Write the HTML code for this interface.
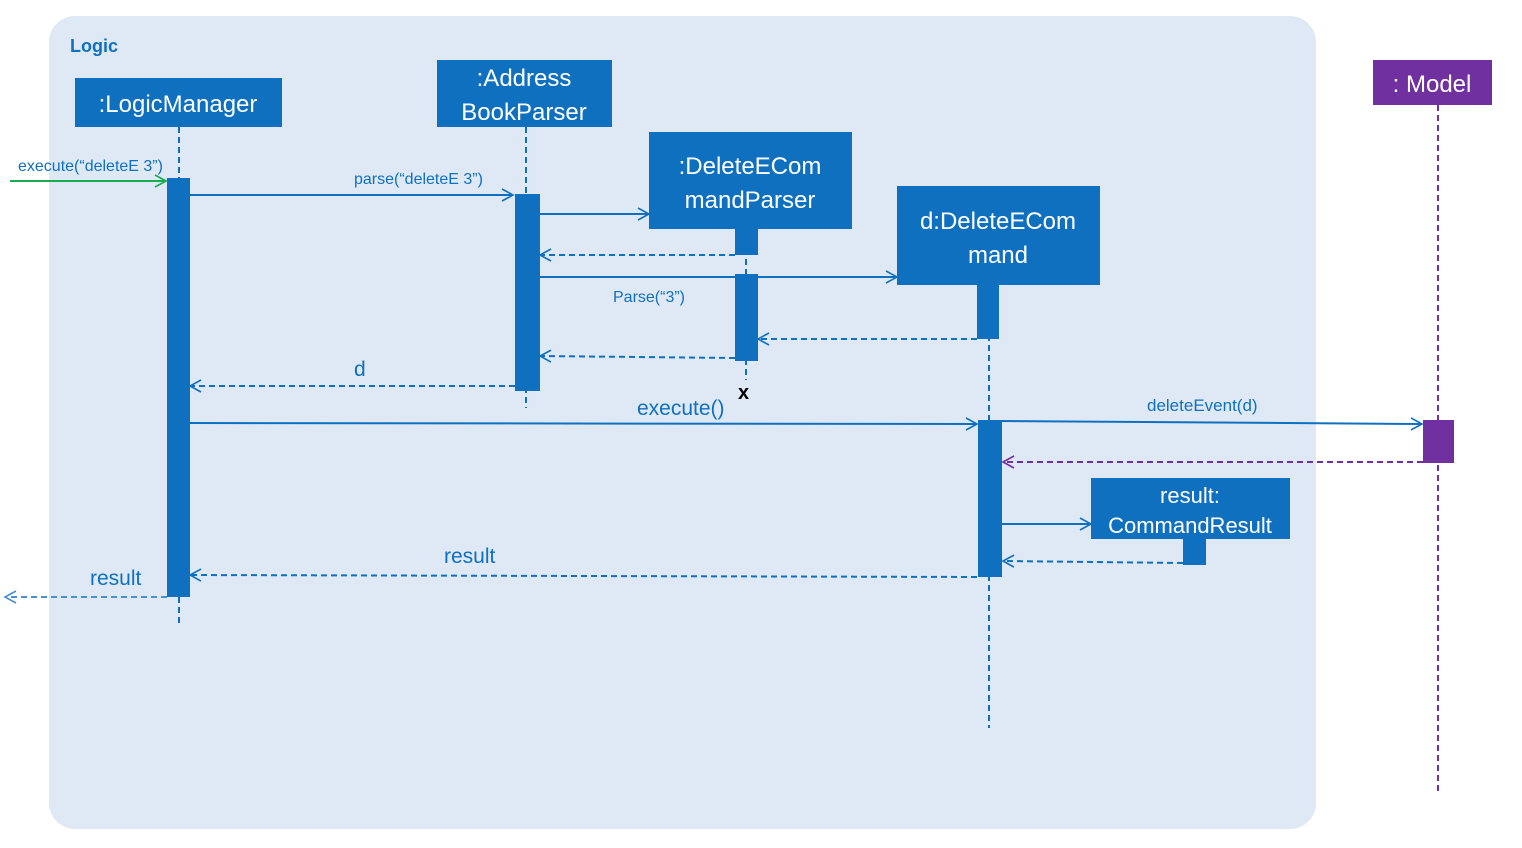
<!DOCTYPE html>
<html><head><meta charset="utf-8"><style>
html,body{margin:0;padding:0;background:#fff;}
svg{display:block;font-family:"Liberation Sans",sans-serif;}
</style></head><body>
<svg width="1522" height="848" viewBox="0 0 1522 848" xmlns="http://www.w3.org/2000/svg">
<defs>
<marker id="a" markerWidth="14" markerHeight="14" refX="12" refY="7" orient="auto" markerUnits="userSpaceOnUse"><path d="M1,1 L12,7 L1,13" fill="none" stroke="#1070c0" stroke-width="1.6"/></marker>
<marker id="g" markerWidth="14" markerHeight="14" refX="12" refY="7" orient="auto" markerUnits="userSpaceOnUse"><path d="M1,1 L12,7 L1,13" fill="none" stroke="#1aaa50" stroke-width="1.6"/></marker>
<marker id="p" markerWidth="14" markerHeight="14" refX="12" refY="7" orient="auto" markerUnits="userSpaceOnUse"><path d="M1,1 L12,7 L1,13" fill="none" stroke="#7030a0" stroke-width="1.6"/></marker>
<marker id="l" markerWidth="14" markerHeight="14" refX="12" refY="7" orient="auto" markerUnits="userSpaceOnUse"><path d="M1,1 L12,7 L1,13" fill="none" stroke="#4a90d0" stroke-width="1.6"/></marker>
</defs>
<rect x="49" y="16" width="1267" height="813" rx="26" fill="#dee9f5"/>
<text x="70" y="52" font-size="18" font-weight="bold" fill="#1070c0">Logic</text>

<g stroke="#1070c0" stroke-width="2" stroke-dasharray="6,4" fill="none">
<line x1="179" y1="127" x2="179" y2="625"/>
<line x1="526" y1="127" x2="526" y2="408"/>
<line x1="746" y1="229" x2="746" y2="380"/>
<line x1="989" y1="285" x2="989" y2="728"/>
</g>
<line x1="1438" y1="105" x2="1438" y2="795" stroke="#7030a0" stroke-width="2" stroke-dasharray="6,4"/>

<g fill="#1070c0">
<rect x="75" y="78" width="207" height="49"/>
<rect x="437" y="60" width="175" height="67"/>
<rect x="649" y="132" width="203" height="97"/>
<rect x="897" y="186" width="203" height="99"/>
<rect x="1091" y="478" width="199" height="61"/>
<rect x="167" y="178" width="23" height="419"/>
<rect x="515" y="194" width="25" height="197"/>
<rect x="735" y="229" width="23" height="26"/>
<rect x="735" y="274" width="23" height="87"/>
<rect x="977" y="285" width="22" height="54"/>
<rect x="978" y="420" width="24" height="157"/>
<rect x="1183" y="539" width="23" height="26"/>
</g>
<rect x="1373" y="60" width="119" height="45" fill="#7030a0"/>
<rect x="1423" y="420" width="31" height="43" fill="#7030a0"/>

<g fill="#fff" font-size="24" text-anchor="middle">
<text x="178" y="112">:LogicManager</text>
<text x="524" y="86">:Address</text>
<text x="524" y="120">BookParser</text>
<text x="750" y="174">:DeleteECom</text>
<text x="750" y="208">mandParser</text>
<text x="998" y="229">d:DeleteECom</text>
<text x="998" y="263">mand</text>
<text x="1432" y="92">: Model</text>
<text x="1190" y="503" font-size="22">result:</text>
<text x="1190" y="533" font-size="22">CommandResult</text>
</g>

<line x1="10" y1="181" x2="166" y2="181" stroke="#1aaa50" stroke-width="2" marker-end="url(#g)"/>
<g stroke="#1070c0" stroke-width="2" fill="none" marker-end="url(#a)">
<line x1="190" y1="195" x2="513" y2="195"/>
<line x1="540" y1="214" x2="649" y2="214"/>
<line x1="735" y1="255" x2="540" y2="255" stroke-dasharray="6,4"/>
<line x1="540" y1="277" x2="897" y2="277"/>
<line x1="977" y1="339" x2="758" y2="339" stroke-dasharray="6,4"/>
<line x1="735" y1="358" x2="540" y2="356" stroke-dasharray="6,4"/>
<line x1="515" y1="386" x2="190" y2="386" stroke-dasharray="6,4"/>
<line x1="190" y1="423" x2="977" y2="424"/>
<line x1="1002" y1="421" x2="1422" y2="424"/>
<line x1="1002" y1="524" x2="1091" y2="524"/>
<line x1="1183" y1="563" x2="1003" y2="561" stroke-dasharray="6,4"/>
<line x1="977" y1="577" x2="190" y2="575" stroke-dasharray="6,4"/>
</g>
<line x1="1423" y1="462" x2="1003" y2="462" stroke="#7030a0" stroke-width="2" stroke-dasharray="6,4" marker-end="url(#p)"/>
<line x1="167" y1="597" x2="5" y2="597" stroke="#4a90d0" stroke-width="2" stroke-dasharray="6,4" marker-end="url(#l)"/>

<g fill="#1070c0">
<text x="18" y="171" font-size="16">execute(“deleteE 3”)</text>
<text x="354" y="184" font-size="16">parse(“deleteE 3”)</text>
<text x="613" y="302" font-size="16">Parse(“3”)</text>
<text x="354" y="376" font-size="21">d</text>
<text x="637" y="415" font-size="21">execute()</text>
<text x="1147" y="411" font-size="17">deleteEvent(d)</text>
<text x="444" y="563" font-size="21">result</text>
<text x="90" y="585" font-size="21">result</text>
</g>
<text x="738" y="399" font-size="20" font-weight="bold" fill="#000">x</text>
</svg>
</body></html>
